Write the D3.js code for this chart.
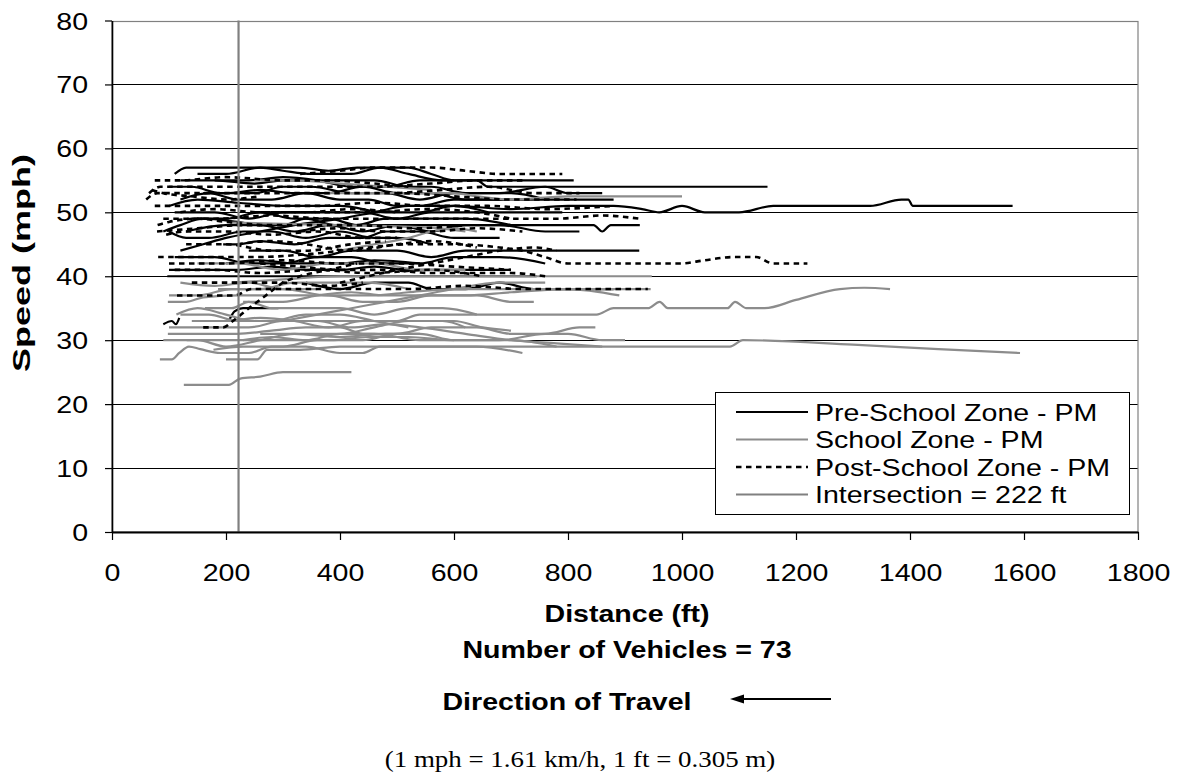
<!DOCTYPE html>
<html><head><meta charset="utf-8">
<script src="https://cdn.jsdelivr.net/npm/d3@7"></script>
<style>body{margin:0;background:#fff}svg{display:block}</style>
</head><body>
<svg id="chart" width="1177" height="776"></svg>
<script>
// ---------------- DATA ----------------
const xTicks = [0, 200, 400, 600, 800, 1000, 1200, 1400, 1600, 1800];
const yTicks = [0, 10, 20, 30, 40, 50, 60, 70, 80];
const intersectionFt = 222;
const legendLabels = ["Pre-School Zone - PM", "School Zone - PM", "Post-School Zone - PM", "Intersection = 222 ft"];
const xTitle = "Distance (ft)";
const yTitle = "Speed (mph)";
const vehiclesText = "Number of Vehicles = 73";
const directionText = "Direction of Travel";
const noteText = "(1 mph = 1.61 km/h, 1 ft = 0.305 m)";

// each vehicle: [distance ft, speed mph] points
const preSchool = [
  [[110,56],[130,57],[250,57],[330,57],[380,56.5],[430,57],[520,57],[560,56],[600,55],[700,55],[810,55]],
  [[150,56],[200,56],[260,57],[300,56.5],[350,56],[420,56],[470,57],[520,56],[580,55],[640,55],[660,54],[700,54],[1150,54]],
  [[120,55],[180,55],[250,54.5],[300,55],[400,55],[460,55],[520,54],[560,54],[620,53],[680,53],[760,54],[800,53],[860,53]],
  [[100,54],[140,54],[190,53],[250,53],[300,54],[350,54],[420,53],[480,53],[540,52],[600,53],[700,53],[760,52]],
  [[120,52],[170,53],[220,52],[280,52],[340,53],[400,52],[450,52],[500,51],[540,51],[600,52],[700,52],[880,52]],
  [[100,51],[150,52],[220,51.5],[300,51],[400,51],[480,50],[540,50],[600,51],[700,50.5],[800,51],[880,51],[930,50.5],[960,50],[1000,51],[1040,50],[1100,50],[1160,51],[1330,51],[1385,52],[1397,52],[1405,51],[1580,51]],
  [[110,50],[180,50],[240,49],[300,50],[380,50],[440,50],[500,49],[560,50],[650,50],[790,50]],
  [[90,47],[120,48],[160,49],[220,48.5],[260,48],[300,48],[340,49],[390,48],[440,48],[500,48],[560,47],[620,48],[700,48],[780,48],[845,48],[860,47],[875,48],[926,48]],
  [[130,47],[200,48],[260,48],[320,47],[380,48],[440,47],[500,48],[600,48],[680,48],[760,47],[820,47]],
  [[120,44],[160,45],[200,46],[260,47],[320,48],[400,49],[460,50],[520,51],[600,51],[660,50]],
  [[195,45],[220,45],[260,45.5],[320,45],[380,46],[440,46],[480,47],[540,47],[600,46],[680,46]],
  [[240,44],[300,44],[360,43],[420,44],[500,44],[560,43],[620,44],[700,44],[925,44]],
  [[110,43],[180,43],[240,42],[300,42],[360,43],[420,43],[480,42],[540,42],[600,43],[680,43],[760,42]],
  [[100,41],[160,41],[220,41],[280,41.5],[340,41],[400,41],[460,41.5],[520,41],[600,41],[700,41]],
  [[97,40],[200,40],[320,40],[460,40],[600,40],[745,40]],
  [[340,39],[400,38],[460,39],[520,39],[560,38],[620,38],[680,39],[740,38],[800,38],[880,38]],
  [[205,33],[215,34.5],[230,35],[260,35],[292,35]],
  [[90,32.5],[105,33],[112,32.5],[118,33.5]],
  [[160,53],[200,53],[260,53.5],[320,53],[380,53],[440,54],[500,53],[560,53],[620,52],[690,52]],
  [[140,49],[200,49],[260,50],[320,49],[380,49],[430,48],[480,49],[540,49],[620,49],[700,48]],
  [[180,55],[240,55],[300,55.5],[360,55],[420,54],[480,54],[540,55],[600,55]],
  [[100,47],[130,46],[170,46],[230,47],[280,47],[340,46],[400,47],[460,46],[500,46],[560,45]],
  [[200,42],[260,42.5],[320,42],[400,42],[460,42.5],[540,42]]
];

const schoolZone = [
  [[126,23],[205,23],[225,24],[260,24.3],[300,25],[420,25]],
  [[84,27],[105,27],[118,28],[135,29],[155,28.6],[190,28],[240,28],[280,29],[340,29],[400,28],[440,28],[470,29],[560,29],[640,29],[720,28]],
  [[200,27],[255,27],[272,28.5],[330,28.5],[400,29],[500,29],[600,29],[700,29],[850,29],[1000,29],[1084,29],[1107,30],[1300,29.3],[1450,28.6],[1593,28]],
  [[178,28.5],[230,29],[300,29],[360,30],[440,30],[500,31],[540,31],[600,30],[680,30],[760,31],[800,31],[860,30],[900,30]],
  [[131,30],[260,30],[383,30],[450,30.5],[520,30.5],[600,30],[700,30],[780,29]],
  [[98,31],[160,31],[220,31],[280,31.5],[340,32],[400,32],[440,31],[500,31],[560,32],[640,32],[700,31],[760,31],[820,32],[848,32]],
  [[100,32],[170,32],[240,32],[300,33],[360,33],[420,32],[480,32.5],[540,32],[620,31],[700,30],[780,29.5],[860,29]],
  [[140,33],[200,33],[260,33.5],[320,33],[380,32],[440,33],[520,33],[600,33],[650,32],[700,31.5]],
  [[113,34],[150,35],[200,34],[250,33],[330,33],[420,33],[500,33],[540,34],[620,34],[720,34],[850,34],[880,35],[940,35],[961,36],[975,35],[1040,35],[1080,35],[1093,36],[1113,35],[1145,35],[1200,36.3],[1277,38],[1320,38.2],[1365,38]],
  [[163,35],[210,35],[240,36],[280,35],[340,35],[400,35],[460,34],[520,35],[580,35],[640,34]],
  [[98,36],[130,36],[160,36.7],[220,37],[300,37],[380,37],[440,36],[500,36],[560,37],[640,37],[700,36],[740,36]],
  [[186,38],[240,38],[300,38],[380,37],[460,37],[520,37.5],[600,38],[700,38],[800,38],[945,38]],
  [[230,36],[300,36],[360,37],[420,37.5],[480,37],[550,37],[620,37],[700,37.5],[800,38],[890,37]],
  [[210,39],[300,39.5],[400,40],[520,40],[640,40],[800,40],[947,40]],
  [[300,33],[360,34],[420,35],[480,36],[540,37],[600,38],[680,39],[760,39]],
  [[90,30],[150,30],[200,29],[260,30],[320,31],[400,31],[460,32],[520,33],[580,33],[620,32]],
  [[100,37],[150,37],[210,38],[260,38],[320,39],[380,39],[450,39],[520,38]],
  [[207,48.4],[300,48.2],[400,48],[560,47.6],[620,47]],
  [[380,53],[460,53],[540,53],[600,53],[640,52.5],[700,52],[800,52.5],[900,52.5],[1000,52.5]],
  [[150,42],[220,42],[300,41],[380,42],[460,42],[540,41],[620,41]],
  [[120,34],[170,34],[220,33],[280,33],[340,34],[400,34],[460,33],[520,32]],
  [[230,30],[280,30.5],[340,30],[400,31],[460,31],[540,30],[600,30]],
  [[400,44],[460,45],[520,46],[560,47],[600,47.5],[640,47]],
  [[250,55],[320,55],[400,54.5],[480,54],[560,53.5]],
  [[120,39],[180,38.5],[240,39],[300,38],[360,38]],
  [[260,31],[320,31],[400,30.5],[480,31],[540,31]]
];

const postSchool = [
  [[330,56],[400,56.5],[460,57],[560,57],[620,56.5],[680,56],[790,56]],
  [[65,53],[85,54],[160,54],[260,54],[360,54],[460,54],[560,54.5],[640,55],[720,55]],
  [[75,55],[120,55],[200,55.5],[300,55],[380,55],[460,54.5],[520,54]],
  [[60,52],[80,53],[150,53],[250,53],[400,53],[500,53],[600,52.5],[700,52],[815,52]],
  [[75,51],[160,51],[260,51],[360,51],[460,51.5],[560,51],[660,51],[760,50.5],[880,51]],
  [[90,49],[180,49],[280,49.5],[380,49],[480,49],[580,49],[680,49],[780,49],[860,49.5],[925,49]],
  [[79,47],[150,47.5],[230,48],[330,48],[430,48],[530,47.5],[620,48]],
  [[95,46.5],[130,47],[200,47],[280,46.5],[360,47],[440,46],[500,46]],
  [[81,43],[150,43],[250,43],[350,43.5],[450,44.5],[520,45],[600,45],[680,44.5],[720,44],[760,43],[800,42],[900,42],[997,42],[1040,42.5],[1090,43],[1130,43],[1160,42],[1220,42]],
  [[100,42],[200,42],[300,42.5],[400,42],[500,42],[600,41.5],[700,41]],
  [[110,41],[180,41],[260,40.5],[360,41],[450,40.5],[560,41],[650,40]],
  [[114,37],[180,37],[215,37],[245,38],[320,38],[420,38],[520,38],[620,38.5],[720,38],[820,38],[940,38]],
  [[160,32],[195,32],[212,33],[240,35],[270,37],[300,39],[330,40],[380,41],[430,42]],
  [[220,45],[280,45.5],[340,45],[420,44],[500,45],[560,45.5],[640,44.5]],
  [[250,50],[350,50],[450,50],[550,50.5],[640,50],[700,49]],
  [[80,48],[100,48.5],[150,49],[200,48.5],[260,48]],
  [[400,39],[450,40],[500,41],[560,42],[620,43],[680,44],[740,44.5],[780,44]],
  [[120,50],[180,50.5],[260,50],[340,50],[420,50.5],[500,50]],
  [[70,53.5],[90,53],[140,52.5],[200,52],[260,52.5]],
  [[130,45],[200,45],[280,44],[340,44],[420,45],[480,45.5]],
  [[500,53],[580,53.5],[660,54],[740,53],[820,53]],
  [[140,39],[220,39],[300,39],[380,38.5],[440,39]],
  [[260,42],[330,41.5],[400,41],[480,41],[560,40.5],[700,40.5],[760,40]],
  [[330,47],[400,47.5],[480,47],[560,47],[640,47.5],[720,47]]
];

// ---------------- DRAWING ----------------
const svg = d3.select("#chart");
const plot = {left: 112, right: 1138, top: 20.5, bottom: 532};
const x = d3.scaleLinear().domain([0, 1800]).range([plot.left, plot.right]);
const y = d3.scaleLinear().domain([0, 80]).range([plot.bottom, plot.top]);
const SX = 1.19;
const SANS = "'Liberation Sans', Arial, Helvetica, sans-serif";
const SERIF = "'Liberation Serif', 'Times New Roman', Times, serif";
const GRAY = "#8c8c8c";

svg.append("rect").attr("width", 1177).attr("height", 776).attr("fill", "#fff");

// gridlines
svg.append("g").selectAll("line")
  .data(yTicks.filter(v => v > 0 && v < 80)).join("line")
  .attr("x1", plot.left).attr("x2", plot.right)
  .attr("y1", d => Math.round(y(d)) + 0.5).attr("y2", d => Math.round(y(d)) + 0.5)
  .attr("stroke", "#000").attr("stroke-width", 1);

// plot border
svg.append("rect")
  .attr("x", plot.left).attr("y", Math.round(plot.top) + 0.5)
  .attr("width", plot.right - plot.left).attr("height", plot.bottom - Math.round(plot.top) - 0.5)
  .attr("fill", "none").attr("stroke", "#808080").attr("stroke-width", 1.2);

const line = d3.line().x(d => x(d[0])).y(d => y(d[1])).curve(d3.curveMonotoneX);

svg.append("g").selectAll("path").data(preSchool).join("path")
  .attr("d", line).attr("fill", "none").attr("stroke", "#000").attr("stroke-width", 2.2);
svg.append("g").selectAll("path").data(schoolZone).join("path")
  .attr("d", line).attr("fill", "none").attr("stroke", GRAY).attr("stroke-width", 2.2);
svg.append("g").selectAll("path").data(postSchool).join("path")
  .attr("d", line).attr("fill", "none").attr("stroke", "#000").attr("stroke-width", 2.6)
  .attr("stroke-dasharray", "5.5,4.5");

// intersection line
svg.append("line")
  .attr("x1", x(intersectionFt)).attr("x2", x(intersectionFt))
  .attr("y1", y(0)).attr("y2", y(80))
  .attr("stroke", "#808080").attr("stroke-width", 2.2);

// axes
const gy = svg.append("g").attr("transform", `translate(${plot.left},0)`)
  .call(d3.axisLeft(y).tickValues(yTicks).tickFormat(d3.format("d")).tickSize(7).tickSizeOuter(0));
gy.select(".domain").attr("stroke", "#000").attr("stroke-width", 1.6);
gy.selectAll(".tick line").attr("stroke", "#000").attr("stroke-width", 1.2);
gy.selectAll(".tick text")
  .attr("font-family", SANS).attr("font-size", 24).attr("fill", "#000")
  .attr("x", -24 / SX).attr("dy", null).attr("y", 8.5)
  .attr("text-anchor", "end")
  .attr("transform", `scale(${SX},1)`);

const gx = svg.append("g").attr("transform", `translate(0,${plot.bottom})`)
  .call(d3.axisBottom(x).tickValues(xTicks).tickFormat(d3.format("d")).tickSize(8).tickSizeOuter(0));
gx.select(".domain").attr("stroke", "#000").attr("stroke-width", 1.8);
gx.selectAll(".tick line").attr("stroke", "#000").attr("stroke-width", 1.2);
gx.selectAll(".tick text")
  .attr("font-family", SANS).attr("font-size", 24).attr("fill", "#000")
  .attr("dy", null).attr("y", 49.5)
  .attr("transform", `scale(${SX},1)`);

function label(txt, tx, ty, opts) {
  const o = Object.assign({size: 24, weight: "normal", family: SANS, anchor: "middle", sx: SX, rotate: 0}, opts || {});
  return svg.append("text")
    .attr("transform", `translate(${tx},${ty}) rotate(${o.rotate}) scale(${o.sx},1)`)
    .attr("text-anchor", o.anchor)
    .attr("font-family", o.family).attr("font-size", o.size).attr("font-weight", o.weight)
    .attr("fill", "#000").text(txt);
}

const cx = (plot.left + plot.right) / 2;
label(xTitle, cx + 2, 622, {weight: "bold"});
label(vehiclesText, cx + 2, 658, {weight: "bold"});
label(directionText, 567, 710, {weight: "bold"});
label(noteText, 580, 767, {family: SERIF, size: 23, sx: 1.17});
label(yTitle, 30, 263, {weight: "bold", rotate: -90, sx: 1.5});

// direction arrow
svg.append("line").attr("x1", 741).attr("x2", 831).attr("y1", 699).attr("y2", 699)
  .attr("stroke", "#000").attr("stroke-width", 2);
svg.append("path").attr("d", "M730,699 L744,694.5 L744,703.5 Z").attr("fill", "#000");

// legend
const lg = svg.append("g");
lg.append("rect").attr("x", 715.5).attr("y", 392.5).attr("width", 414).attr("height", 122)
  .attr("fill", "#fff").attr("stroke", "#000").attr("stroke-width", 1);
const legendStyles = [
  {stroke: "#000", width: 2.2, dash: null},
  {stroke: GRAY, width: 2.2, dash: null},
  {stroke: "#000", width: 2.6, dash: "5.5,4.5"},
  {stroke: "#808080", width: 2.2, dash: null}
];
const rowY = [412, 439.5, 467, 494.5];
legendLabels.forEach((t, i) => {
  lg.append("line").attr("x1", 736).attr("x2", 808).attr("y1", rowY[i]).attr("y2", rowY[i])
    .attr("stroke", legendStyles[i].stroke).attr("stroke-width", legendStyles[i].width)
    .attr("stroke-dasharray", legendStyles[i].dash);
  lg.append("text")
    .attr("transform", `translate(815,${rowY[i] + 8.5}) scale(${SX},1)`)
    .attr("font-family", SANS).attr("font-size", 24).attr("fill", "#000").text(t);
});
</script>
</body></html>
